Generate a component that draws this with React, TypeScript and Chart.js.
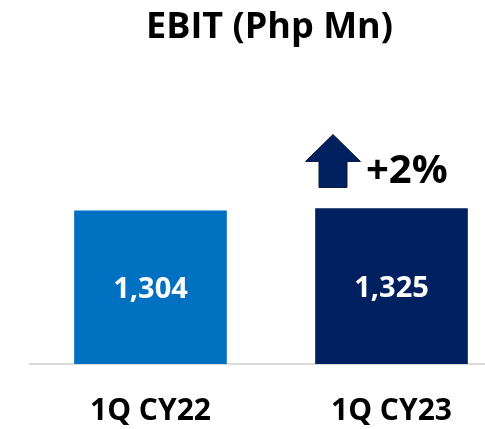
import React, { useEffect, useRef } from "react";
import { Chart, registerables } from "chart.js";

Chart.register(...registerables);

const categories = ["1Q CY22", "1Q CY23"];
const ebitValues = [1304, 1325];
const barColors = ["#0070C0", "#002060"];
const chartTitle = "EBIT (Php Mn)";

const FONT = "'Open Sans', 'Noto Sans', sans-serif";

const valueLabelPlugin = {
  id: "valueLabels",
  afterDatasetsDraw(chart: any) {
    const ctx = chart.ctx;
    const meta = chart.getDatasetMeta(0);
    ctx.save();
    ctx.fillStyle = "#ffffff";
    ctx.font = `bold 29px ${FONT}`;
    ctx.textAlign = "center";
    ctx.textBaseline = "middle";
    meta.data.forEach((bar: any, i: number) => {
      const v = ebitValues[i];
      ctx.fillText(v.toLocaleString("en-US"), bar.x, (bar.y + bar.base) / 2 + 2);
    });
    ctx.restore();
  },
};

const growthPlugin = {
  id: "growthArrow",
  afterDatasetsDraw(chart: any) {
    const ctx = chart.ctx;
    const meta = chart.getDatasetMeta(0);
    const bar: any = meta.data[1];
    if (!bar) return;
    const growth = Math.round((ebitValues[1] / ebitValues[0] - 1) * 100);
    const cx = bar.x - 58.5;
    const tip = bar.y - 74;
    ctx.save();
    ctx.beginPath();
    ctx.moveTo(cx, tip);
    ctx.lineTo(cx + 27.5, tip + 27);
    ctx.lineTo(cx + 14, tip + 27);
    ctx.lineTo(cx + 14, tip + 53);
    ctx.lineTo(cx - 14, tip + 53);
    ctx.lineTo(cx - 14, tip + 27);
    ctx.lineTo(cx - 27.5, tip + 27);
    ctx.closePath();
    ctx.fillStyle = "#002060";
    ctx.fill();
    ctx.strokeStyle = "#0a1a3a";
    ctx.lineWidth = 1;
    ctx.stroke();
    ctx.fillStyle = "#000000";
    ctx.font = `bold 40px ${FONT}`;
    ctx.textAlign = "left";
    ctx.textBaseline = "alphabetic";
    ctx.fillText(`+${growth}%`, cx + 33, tip + 49);
    ctx.restore();
  },
};

export default function App() {
  const ref = useRef<HTMLCanvasElement | null>(null);
  useEffect(() => {
    if (!ref.current) return;
    const chart = new Chart(ref.current, {
      type: "bar",
      data: {
        datasets: [
          {
            data: ebitValues.map((v, i) => ({ x: i, y: v })),
            backgroundColor: barColors,
            barThickness: 152,
            borderWidth: 0,
          },
        ],
      },
      options: {
        animation: false,
        responsive: false,
        maintainAspectRatio: false,
        layout: { padding: { left: 30, right: -24, top: 0, bottom: -29 } },
        plugins: {
          legend: { display: false },
          tooltip: { enabled: false },
          title: {
            display: true,
            text: chartTitle,
            color: "#000000",
            font: { family: FONT, size: 36, weight: "bold" },
            padding: { top: 6, bottom: 19 },
          },
        },
        scales: {
          x: {
            type: "linear",
            offset: false,
            min: -0.5,
            max: 1.388,
            grid: { display: false, drawTicks: false, offset: false },
            border: { display: true, color: "#d9d9d9", width: 2 },
            afterBuildTicks: (scale: any) => {
              scale.ticks = categories.map((_, i) => ({ value: i }));
            },
            ticks: {
              padding: 29,
              color: "#000000",
              font: { family: FONT, size: 30, weight: "bold" },
              maxRotation: 0,
              autoSkip: false,
              callback: (v: any) => categories[v as number] ?? "",
            },
          },
          y: {
            display: false,
            min: 0,
            max: 2520,
          },
        },
      },
      plugins: [valueLabelPlugin, growthPlugin],
    });
    return () => chart.destroy();
  }, []);
  return (
    <div style={{ position: "fixed", left: 0, top: 0, width: 485, height: 429, background: "#fff" }}>
      <canvas ref={ref} width={485} height={429} />
    </div>
  );
}
